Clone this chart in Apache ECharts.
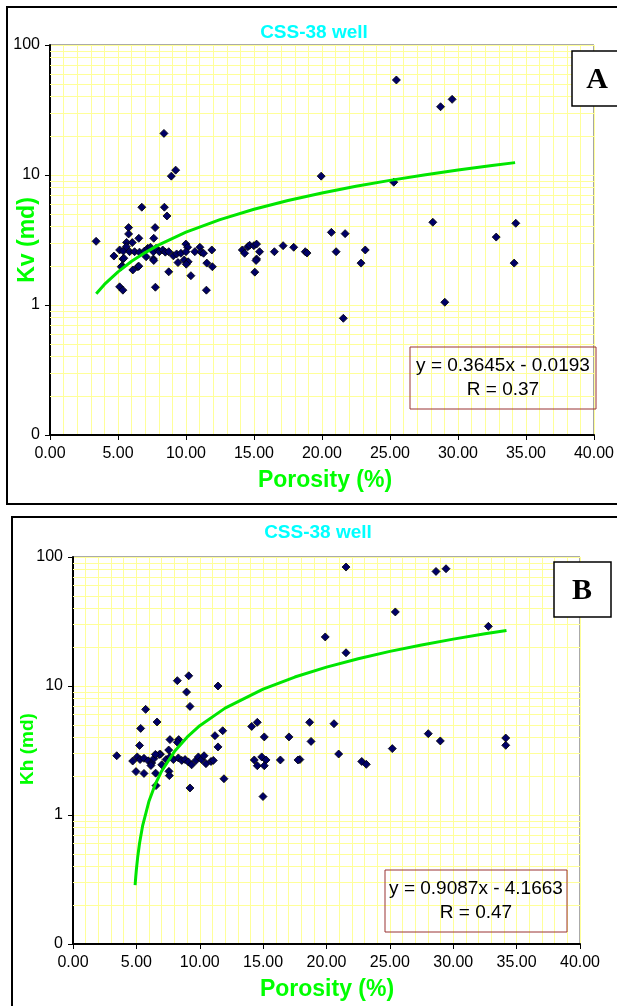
<!DOCTYPE html>
<html><head><meta charset="utf-8">
<script src="https://cdn.jsdelivr.net/npm/echarts@6/dist/echarts.min.js"></script>
<style>html,body{margin:0;padding:0;background:#fff}#c{width:617px;height:1006px}</style>
</head><body><div id="c"></div>
<script>
// ---- Panel A : Kv vs porosity ----
const kvPoints = [
  [25.47,53.8],[28.72,33.5],[29.57,38.2],[19.94,9.8],[25.28,8.8],[28.15,4.33],[34.25,4.25],
  [20.69,3.62],[21.7,3.54],[32.81,3.33],[18.77,2.57],[18.9,2.51],[21.04,2.57],[23.18,2.65],
  [22.87,2.1],[34.13,2.1],[29.03,1.05],[21.57,0.79],
  [14.14,2.65],[14.31,2.5],[14.55,2.81],[14.68,2.88],[14.99,2.86],[15.19,2.94],[15.41,2.57],
  [15.19,2.26],[15.06,1.79],[16.5,2.57],[17.14,2.86],[17.92,2.78],
  [8.38,20.9],[8.92,9.8],[9.24,10.9],
  [6.75,5.65],[8.41,5.65],[8.6,4.84],[5.78,3.94],[5.78,3.52],[7.73,3.94],[3.39,3.09],[6.53,3.26],
  [7.63,3.26],[5.63,3.03],[6.05,3.02],
  [4.7,2.38],[5.12,2.65],[5.39,2.6],[5.36,2.26],[5.31,2.0],[5.24,1.97],[6.09,1.86],[6.46,1.97],
  [5.85,2.57],[6.22,2.57],[6.58,2.55],[6.95,2.6],[7.19,2.73],[7.39,2.78],[7.6,2.57],[7.07,2.35],
  [7.6,2.26],[7.8,2.73],[8.04,2.57],[8.29,2.65],[8.48,2.55],[8.73,2.57],[8.73,1.8],[9.07,2.39],
  [9.31,2.47],[9.41,2.12],[9.63,2.5],[9.87,2.22],[9.99,2.94],[10.12,2.78],[10.0,2.57],[10.16,2.15],
  [10.36,1.68],[10.65,2.57],[11.02,2.78],[11.11,2.55],[11.29,2.5],[11.53,2.1],[11.9,2.65],[11.94,1.97],
  [11.5,1.3],[7.75,1.37],[5.12,1.38],[5.36,1.3],[5.43,2.29],[5.61,2.81],[6.53,1.99],[10.02,2.06],
  [7.63,2.2],[15.15,2.2]
];
const kvTrendX = [3.4, 4, 5, 6, 7, 8, 10, 12.5, 15, 17.5, 20, 22.5, 25, 27.5, 30, 32.5, 34.2];
const kvTrendY = [1.22, 1.44, 1.80, 2.17, 2.53, 2.90, 3.63, 4.54, 5.45, 6.36, 7.27, 8.18, 9.09, 10.00, 10.92, 11.83, 12.45];

// ---- Panel B : Kh vs porosity ----
const khPoints = [
  [21.54,83.6],[28.64,77.3],[29.43,81.1],[25.43,37.5],[19.9,24],[32.77,29],[21.54,18.1],
  [18.67,5.23],[20.59,5.1],[18.78,3.72],[20.96,2.97],[22.78,2.6],[23.14,2.47],[25.19,3.27],
  [28.03,4.27],[28.98,3.75],[34.14,3.95],[34.14,3.47],[17.9,2.69],
  [14.1,4.86],[14.54,5.23],[15.09,4.03],[14.3,2.67],[14.54,2.41],[14.89,2.82],[15.23,2.67],
  [15.09,2.41],[14.99,1.39],[16.36,2.67],[17.04,4.03],[17.75,2.67],
  [8.23,11.0],[9.13,12.0],[8.96,8.97],[11.44,10.0],[9.23,6.95],[5.73,6.59],[6.63,5.26],[5.34,4.69],
  [11.2,4.12],[11.81,4.5],[11.44,3.37],[7.65,3.84],[8.34,3.84],[8.23,3.66],[5.25,3.46],[3.45,2.88],
  [7.55,3.19],[6.9,2.96],
  [4.71,2.62],[5.07,2.82],[5.29,2.69],[5.6,2.75],[5.94,2.63],[6.21,2.53],[6.39,2.74],[6.81,2.95],
  [6.5,2.95],[7.0,2.45],[7.34,2.69],[7.65,2.82],[7.92,2.69],[8.31,2.77],[8.58,2.65],[8.84,2.69],
  [9.1,2.58],[9.36,2.45],[9.7,2.65],[9.89,2.82],[10.15,2.69],[10.34,2.88],[10.49,2.5],[10.89,2.6],
  [11.07,2.65],[4.97,2.17],[5.6,2.1],[6.52,2.11],[7.57,2.18],[7.6,2.02],[6.15,2.42],[11.91,1.91],
  [9.23,1.62],[6.55,1.69]
];
const khTrendX = [4.9, 4.95, 5, 5.1, 5.25, 5.5, 6, 6.5, 7, 8, 9, 10, 12, 15, 17.5, 20, 22.5, 25, 27.5, 30, 32.5, 34.2];
const khTrendY = [0.286, 0.332, 0.377, 0.468, 0.604, 0.832, 1.286, 1.740, 2.195, 3.103, 4.012, 4.921, 6.738, 9.464, 11.736, 14.008, 16.279, 18.551, 20.823, 23.095, 25.366, 26.911];

// ---- axes / texts ----
const yTickValues = [0.1, 1, 10, 100];
const yTickLabels = ['0', '1', '10', '100'];
const yMinorGrid = [0.2,0.3,0.4,0.5,0.6,0.7,0.8,0.9, 2,3,4,5,6,7,8,9, 20,30,40,50,60,70,80,90];
const titleText = 'CSS-38 well';
const xName = 'Porosity (%)';
const yNames = ['Kv (md)', 'Kh (md)'];
const eqLines = [['y = 0.3645x - 0.0193', 'R = 0.37'], ['y = 0.9087x - 4.1663', 'R = 0.47']];
const panelLetters = ['A', 'B'];

const FONT = '"Liberation Sans", Arial, sans-serif';
const GRID_COLOR = '#ffff99';
const GREEN = '#00ff00';

function yLabel(v) {
  for (let i = 0; i < yTickValues.length; i++) {
    if (Math.abs(Math.log10(yTickValues[i]) - Math.log10(v)) < 1e-6) return yTickLabels[i];
  }
  return '';
}
function xAxisCfg(gi) {
  return {
    type: 'value', gridIndex: gi, min: 0, max: 40, interval: 5,
    axisLine: { show: true, onZero: false, lineStyle: { color: '#000', width: 2 } },
    axisTick: { show: true, length: 5, lineStyle: { color: '#000', width: 1 } },
    axisLabel: { formatter: v => v.toFixed(2), color: '#000', fontSize: 16, fontFamily: FONT, margin: 11 },
    splitLine: { show: true, lineStyle: { color: GRID_COLOR, width: 1 } },
    minorTick: { show: false, splitNumber: 5 },
    minorSplitLine: { show: true, lineStyle: { color: GRID_COLOR, width: 1 } }
  };
}
function yAxisCfg(gi) {
  return {
    type: 'log', logBase: 10, gridIndex: gi, min: 0.1, max: 100,
    axisLine: { show: true, onZero: false, lineStyle: { color: '#000', width: 2 } },
    axisTick: { show: true, length: 5, lineStyle: { color: '#000', width: 1 } },
    axisLabel: { formatter: yLabel, color: '#000', fontSize: 16, fontFamily: FONT, margin: 10 },
    splitLine: { show: true, lineStyle: { color: GRID_COLOR, width: 1 } }
  };
}
function minorGridSeries(gi) {
  return {
    type: 'scatter', xAxisIndex: gi, yAxisIndex: gi, data: [], z: 1, silent: true,
    markLine: {
      silent: true, z: 1, symbol: ['none', 'none'], animation: false,
      label: { show: false },
      lineStyle: { color: GRID_COLOR, type: 'solid', width: 1 },
      emphasis: { disabled: true },
      data: yMinorGrid.map(v => ({ yAxis: v }))
    }
  };
}
function scatterSeries(gi, pts) {
  return {
    type: 'scatter', xAxisIndex: gi, yAxisIndex: gi, data: pts, z: 3,
    symbol: 'diamond', symbolSize: 8,
    itemStyle: { color: '#000066', borderColor: '#000', borderWidth: 0.8, opacity: 1 }
  };
}
function trendSeries(gi, xs, ys) {
  return {
    type: 'line', xAxisIndex: gi, yAxisIndex: gi, z: 4,
    data: xs.map((x, i) => [x, ys[i]]), showSymbol: false, symbol: 'none', smooth: false,
    lineStyle: { color: '#00e600', width: 3 }
  };
}
function txt(x, y, text, font, fill, extra) {
  return Object.assign({ type: 'text', x: x, y: y, z: 100,
    style: { text: text, font: font, fill: fill, align: 'center', verticalAlign: 'middle' } }, extra || {});
}

const chart = echarts.init(document.getElementById('c'), null, { renderer: 'canvas' });
chart.setOption({
  animation: false,
  backgroundColor: '#fff',
  grid: [
    { left: 50, top: 45, width: 547, height: 390, show: true, backgroundColor: '#fff', borderColor: '#555', borderWidth: 1 },
    { left: 73, top: 557, width: 507, height: 387, show: true, backgroundColor: '#fff', borderColor: '#555', borderWidth: 1 }
  ],
  xAxis: [xAxisCfg(0), xAxisCfg(1)],
  yAxis: [yAxisCfg(0), yAxisCfg(1)],
  series: [
    minorGridSeries(0), scatterSeries(0, kvPoints), trendSeries(0, kvTrendX, kvTrendY),
    minorGridSeries(1), scatterSeries(1, khPoints), trendSeries(1, khTrendX, khTrendY)
  ],
  graphic: [
    // outer frames
    { type: 'rect', z: 90, shape: { x: 7, y: 7, width: 640, height: 497 }, style: { fill: 'none', stroke: '#000', lineWidth: 2 } },
    { type: 'rect', z: 90, shape: { x: 12, y: 517, width: 640, height: 520 }, style: { fill: 'none', stroke: '#000', lineWidth: 2 } },
    // titles
    txt(314, 33, titleText, 'bold 19px ' + FONT, '#00ffff'),
    txt(318, 533, titleText, 'bold 19px ' + FONT, '#00ffff'),
    // axis names
    txt(325, 481, xName, 'bold 23px ' + FONT, GREEN),
    txt(327, 990, xName, 'bold 23px ' + FONT, GREEN),
    txt(28, 240, yNames[0], 'bold 23px ' + FONT, GREEN, { rotation: Math.PI / 2 }),
    txt(28, 749, yNames[1], 'bold 19px ' + FONT, GREEN, { rotation: Math.PI / 2 }),
    // panel letter boxes
    { type: 'rect', z: 95, shape: { x: 572, y: 51, width: 56, height: 55 }, style: { fill: '#fff', stroke: '#000', lineWidth: 1.5 } },
    txt(597, 80, panelLetters[0], 'bold 30px "Liberation Serif", serif', '#000'),
    { type: 'rect', z: 95, shape: { x: 554, y: 562, width: 57, height: 55 }, style: { fill: '#fff', stroke: '#000', lineWidth: 1.5 } },
    txt(582, 591, panelLetters[1], 'bold 30px "Liberation Serif", serif', '#000'),
    // equation boxes
    { type: 'rect', z: 95, shape: { x: 410, y: 347, width: 186, height: 62 }, style: { fill: 'none', stroke: '#993333', lineWidth: 1 } },
    txt(503, 366, eqLines[0][0], '19px ' + FONT, '#000'),
    txt(503, 390, eqLines[0][1], '19px ' + FONT, '#000'),
    { type: 'rect', z: 95, shape: { x: 385, y: 870, width: 182, height: 62 }, style: { fill: 'none', stroke: '#993333', lineWidth: 1 } },
    txt(476, 889, eqLines[1][0], '19px ' + FONT, '#000'),
    txt(476, 913, eqLines[1][1], '19px ' + FONT, '#000')
  ]
});
</script>
</body></html>
